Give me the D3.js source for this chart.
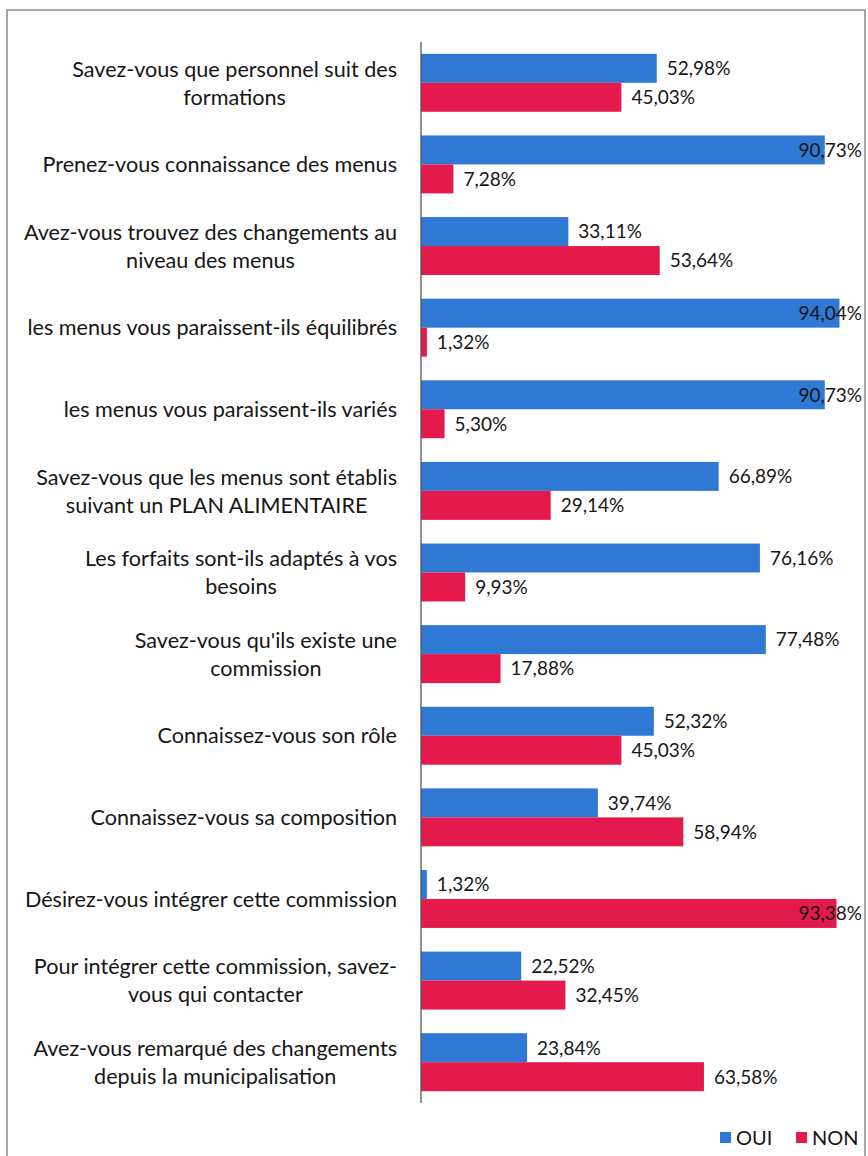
<!DOCTYPE html>
<html>
<head>
<meta charset="utf-8">
<script src="https://cdn.jsdelivr.net/npm/d3@7"></script>
<style>
  body { margin: 0; background: #fff; }
  svg text { font-family: Lato, "Open Sans", sans-serif; fill: #161616; }
</style>
</head>
<body>
<div class="chart-container"></div>
<script>
// questions, each already split on the lines it wraps to
const questions = [
  ["Savez-vous que personnel suit des", "formations"],
  ["Prenez-vous connaissance des menus"],
  ["Avez-vous trouvez des changements au", "niveau des menus"],
  ["les menus vous paraissent-ils équilibrés"],
  ["les menus vous paraissent-ils variés"],
  ["Savez-vous que les menus sont établis", "suivant un PLAN ALIMENTAIRE"],
  ["Les forfaits sont-ils adaptés à vos", "besoins"],
  ["Savez-vous qu'ils existe une", "commission"],
  ["Connaissez-vous son rôle"],
  ["Connaissez-vous sa composition"],
  ["Désirez-vous intégrer cette commission"],
  ["Pour intégrer cette commission, savez-", "vous qui contacter"],
  ["Avez-vous remarqué des changements", "depuis la municipalisation"]
];
const oui = [52.98, 90.73, 33.11, 94.04, 90.73, 66.89, 76.16, 77.48, 52.32, 39.74, 1.32, 22.52, 23.84];
const non = [45.03, 7.28, 53.64, 1.32, 5.30, 29.14, 9.93, 17.88, 45.03, 58.94, 93.38, 32.45, 63.58];
const seriesNames = ["OUI", "NON"];
const seriesColors = ["#2f78d3", "#e31a4b"];

const width = 868, height = 1156;
const margin = {top: 42, bottom: 53, left: 421, right: 6};

const svg = d3.select(".chart-container").append("svg")
    .attr("width", width)
    .attr("height", height);

// scanned frame
svg.append("rect")
    .attr("x", 7).attr("y", 10)
    .attr("width", 858).attr("height", 1160)
    .attr("fill", "none")
    .attr("stroke", "#8a8a8a")
    .attr("stroke-width", 1.5);

const rows = questions.map((q, i) => ({id: i, lines: q, values: [oui[i], non[i]]}));

const y = d3.scaleBand()
    .domain(rows.map(d => d.id))
    .range([margin.top, height - margin.bottom])
    .paddingInner(0.29)
    .paddingOuter(0.145);

const ySub = d3.scaleBand()
    .domain(seriesNames)
    .range([0, y.bandwidth()]);

const x = d3.scaleLinear()
    .domain([0, 100])
    .range([margin.left, margin.left + 445]);

const labelRight = 862;

const g = svg.selectAll(".row")
    .data(rows)
  .enter().append("g")
    .attr("class", "row")
    .attr("transform", d => "translate(0," + y(d.id) + ")");

g.selectAll("rect")
    .data(d => d.values.map((v, k) => ({v: v, name: seriesNames[k], k: k})))
  .enter().append("rect")
    .attr("x", x(0))
    .attr("y", d => ySub(d.name))
    .attr("width", d => x(d.v) - x(0))
    .attr("height", ySub.bandwidth())
    .attr("fill", d => seriesColors[d.k]);

g.selectAll(".val")
    .data(d => d.values.map((v, k) => ({v: v, name: seriesNames[k]})))
  .enter().append("text")
    .attr("class", "val")
    .attr("y", d => ySub(d.name) + ySub.bandwidth() / 2)
    .attr("dy", "0.36em")
    .style("font-size", "19px")
    .text(d => d.v.toFixed(2).replace(".", ",") + "%")
    .each(function(d) {
      const w = this.getComputedTextLength();
      let lx = x(d.v) + 10;
      if (lx + w > labelRight) lx = labelRight - w;
      d3.select(this).attr("x", lx);
    });

// category labels: block right aligned, lines centred inside it
const catRight = 397;
const lineH = 28;
g.each(function(d) {
  const cg = d3.select(this).append("g").attr("class", "cat");
  const n = d.lines.length;
  const texts = d.lines.map((line, j) => cg.append("text")
      .attr("y", y.bandwidth() / 2 + (j - (n - 1) / 2) * lineH)
      .attr("dy", "0.36em")
      .style("font-size", "21.6px")
      .style("text-anchor", "middle")
      .text(line));
  const maxW = d3.max(texts, t => t.node().getComputedTextLength());
  texts.forEach(t => t.attr("x", catRight - maxW / 2));
});

// axis line
svg.append("line")
    .attr("x1", x(0)).attr("x2", x(0))
    .attr("y1", margin.top).attr("y2", height - margin.bottom)
    .attr("stroke", "#555")
    .attr("stroke-width", 1.3);

// legend
const legend = svg.append("g")
    .attr("transform", "translate(720,1138)");
const lx = [0, 76];
seriesNames.forEach((name, k) => {
  legend.append("rect")
      .attr("x", lx[k]).attr("y", -6)
      .attr("width", 11).attr("height", 11)
      .attr("fill", seriesColors[k]);
  legend.append("text")
      .attr("x", lx[k] + 16)
      .attr("dy", "0.36em")
      .style("font-size", "20px")
      .text(name);
});
</script>
</body>
</html>
